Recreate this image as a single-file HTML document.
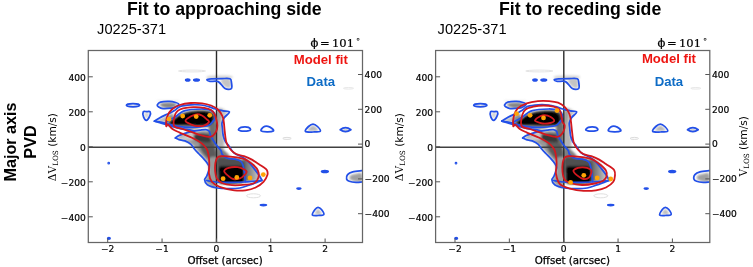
<!DOCTYPE html><html><head><meta charset="utf-8"><title>PVD</title><style>
html,body{margin:0;padding:0;background:#fff;}
body{width:753px;height:267px;overflow:hidden;position:relative;}
svg{position:absolute;left:0;top:0;}
.tk{font-family:"DejaVu Sans",sans-serif;font-size:9.1px;fill:#000;stroke:#000;stroke-width:0.2px;}
.al{font-family:"DejaVu Sans",sans-serif;font-size:10.25px;fill:#000;stroke:#000;stroke-width:0.25px;}
.yl{font-family:"DejaVu Sans",sans-serif;font-size:10.6px;fill:#000;}
.ser{font-family:"DejaVu Serif",serif;font-size:10.6px;}
.ttl{font-family:"Liberation Sans",Arial,sans-serif;font-weight:bold;font-size:17.7px;fill:#000;}
.obj{font-family:"Liberation Sans",Arial,sans-serif;font-size:14.6px;fill:#000;}
.phi{font-family:"DejaVu Serif",serif;font-size:11.5px;fill:#000;stroke:#000;stroke-width:0.22px;}
.lg{font-family:"Liberation Sans",Arial,sans-serif;font-weight:bold;font-size:13.15px;}
.side{font-family:"Liberation Sans",Arial,sans-serif;font-weight:bold;font-size:16.2px;fill:#000;}
</style></head><body><svg width="753" height="267" viewBox="0 0 753 267">
<defs><filter id="bl" x="-5%" y="-5%" width="110%" height="110%"><feGaussianBlur stdDeviation="1.1"/></filter><linearGradient id="gr" x1="0" x2="1" y1="0" y2="0"><stop offset="0" stop-color="#5a5a5a"/><stop offset="1" stop-color="#d8d8d8"/></linearGradient><clipPath id="cp"><rect x="88.3" y="50.5" width="274.2" height="192.0"/></clipPath></defs>
<g clip-path="url(#cp)"><g filter="url(#bl)"><path d="M159.50,104.80 C159.17,104.00 161.08,103.37 163.00,103.00 C164.92,102.63 168.75,102.40 171.00,102.60 C173.25,102.80 176.08,103.40 176.50,104.20 C176.92,105.00 175.42,106.80 173.50,107.40 C171.58,108.00 167.33,108.23 165.00,107.80 C162.67,107.37 159.83,105.60 159.50,104.80Z" fill="#858585" fill-opacity="1.0"/><path d="M159.00,100.60 C162.00,100.43 174.00,100.43 177.00,100.60 C180.00,100.77 180.00,101.43 177.00,101.60 C174.00,101.77 162.00,101.77 159.00,101.60 C156.00,101.43 156.00,100.77 159.00,100.60Z" fill="#d6d6d6" fill-opacity="0.8"/><path d="M144.50,113.00 C145.13,112.42 148.18,112.42 148.80,113.00 C149.42,113.58 148.58,115.53 148.20,116.50 C147.82,117.47 147.03,118.80 146.50,118.80 C145.97,118.80 145.33,117.47 145.00,116.50 C144.67,115.53 143.87,113.58 144.50,113.00Z" fill="#d0d0d0" fill-opacity="1.0"/><path d="M157.00,120.80 C157.00,119.78 162.33,117.72 165.00,116.50 C167.67,115.28 171.50,112.50 173.00,113.50 C174.50,114.50 175.33,120.98 174.00,122.50 C172.67,124.02 167.83,122.88 165.00,122.60 C162.17,122.32 157.00,121.82 157.00,120.80Z" fill="#bdbdbd" fill-opacity="1.0"/><path d="M166.00,118.00 C167.00,116.70 171.67,114.17 173.00,115.00 C174.33,115.83 175.00,121.70 174.00,123.00 C173.00,124.30 168.33,123.63 167.00,122.80 C165.67,121.97 165.00,119.30 166.00,118.00Z" fill="#8e8e8e" fill-opacity="1.0"/><path d="M168.00,124.50 C170.17,124.33 179.67,125.67 185.00,126.00 C190.33,126.33 198.33,125.83 200.00,126.50 C201.67,127.17 197.50,129.53 195.00,130.00 C192.50,130.47 188.83,129.80 185.00,129.30 C181.17,128.80 174.83,127.80 172.00,127.00 C169.17,126.20 165.83,124.67 168.00,124.50Z" fill="#a8a8a8" fill-opacity="1.0"/><path d="M173.50,119.00 C175.42,117.75 177.58,115.77 180.00,114.50 C182.42,113.23 185.17,112.12 188.00,111.40 C190.83,110.68 193.75,110.35 197.00,110.20 C200.25,110.05 204.83,110.12 207.50,110.50 C210.17,110.88 211.70,111.58 213.00,112.50 C214.30,113.42 214.92,114.17 215.30,116.00 C215.68,117.83 215.77,121.78 215.30,123.50 C214.83,125.22 215.72,125.75 212.50,126.30 C209.28,126.85 201.42,126.80 196.00,126.80 C190.58,126.80 184.42,126.52 180.00,126.30 C175.58,126.08 171.42,126.22 169.50,125.50 C167.58,124.78 167.83,123.08 168.50,122.00 C169.17,120.92 171.58,120.25 173.50,119.00Z" fill="#555555" fill-opacity="1.0"/><path d="M170.50,121.50 C171.00,120.42 173.30,119.38 175.00,118.30 C176.70,117.22 178.52,115.97 180.70,115.00 C182.88,114.03 185.47,113.10 188.10,112.50 C190.73,111.90 193.35,111.52 196.50,111.40 C199.65,111.28 204.55,111.40 207.00,111.80 C209.45,112.20 210.20,112.97 211.20,113.80 C212.20,114.63 212.70,115.52 213.00,116.80 C213.30,118.08 213.25,120.20 213.00,121.50 C212.75,122.80 213.67,123.95 211.50,124.60 C209.33,125.25 204.25,125.28 200.00,125.40 C195.75,125.52 190.67,125.40 186.00,125.30 C181.33,125.20 174.58,125.43 172.00,124.80 C169.42,124.17 170.00,122.58 170.50,121.50Z" fill="#000" fill-opacity="1.0"/><path d="M217.00,109.50 C218.67,104.80 225.92,110.38 227.00,111.80 C228.08,113.22 224.42,115.63 223.50,118.00 C222.58,120.37 221.75,122.33 221.50,126.00 C221.25,129.67 221.42,136.50 222.00,140.00 C222.58,143.50 225.50,145.33 225.00,147.00 C224.50,148.67 220.33,151.17 219.00,150.00 C217.67,148.83 217.33,146.75 217.00,140.00 C216.67,133.25 215.33,114.20 217.00,109.50Z" fill="#c2c2c2" fill-opacity="1.0"/><path d="M217.00,112.00 C217.67,107.17 220.50,110.83 221.00,113.00 C221.50,115.17 220.08,120.50 220.00,125.00 C219.92,129.50 221.00,137.17 220.50,140.00 C220.00,142.83 217.58,146.67 217.00,142.00 C216.42,137.33 216.33,116.83 217.00,112.00Z" fill="#9a9a9a" fill-opacity="1.0"/><path d="M178.00,137.50 C178.33,136.33 183.00,134.50 186.00,133.50 C189.00,132.50 192.67,132.00 196.00,131.50 C199.33,131.00 203.50,130.25 206.00,130.50 C208.50,130.75 209.67,131.42 211.00,133.00 C212.33,134.58 213.25,137.50 214.00,140.00 C214.75,142.50 215.17,145.00 215.50,148.00 C215.83,151.00 216.92,155.50 216.00,158.00 C215.08,160.50 212.17,163.17 210.00,163.00 C207.83,162.83 205.17,159.17 203.00,157.00 C200.83,154.83 199.00,152.17 197.00,150.00 C195.00,147.83 193.17,145.58 191.00,144.00 C188.83,142.42 186.17,141.58 184.00,140.50 C181.83,139.42 177.67,138.67 178.00,137.50Z" fill="#989898" fill-opacity="1.0"/><path d="M180.00,138.30 C180.00,137.43 183.83,135.88 186.00,135.00 C188.17,134.12 191.83,132.25 193.00,133.00 C194.17,133.75 194.17,138.30 193.00,139.50 C191.83,140.70 188.17,140.40 186.00,140.20 C183.83,140.00 180.00,139.17 180.00,138.30Z" fill="#cacaca" fill-opacity="1.0"/><path d="M194.00,135.00 C195.08,134.05 198.67,133.67 201.00,133.50 C203.33,133.33 206.08,133.42 208.00,134.00 C209.92,134.58 211.58,135.75 212.50,137.00 C213.42,138.25 214.42,140.53 213.50,141.50 C212.58,142.47 209.42,142.72 207.00,142.80 C204.58,142.88 201.08,142.60 199.00,142.00 C196.92,141.40 195.33,140.37 194.50,139.20 C193.67,138.03 192.92,135.95 194.00,135.00Z" fill="#383838" fill-opacity="1.0"/><path d="M200.00,143.00 C201.17,141.88 205.67,142.72 208.00,142.80 C210.33,142.88 212.73,142.30 214.00,143.50 C215.27,144.70 215.33,147.58 215.60,150.00 C215.87,152.42 216.45,156.33 215.60,158.00 C214.75,159.67 212.18,160.33 210.50,160.00 C208.82,159.67 207.08,157.75 205.50,156.00 C203.92,154.25 201.92,151.67 201.00,149.50 C200.08,147.33 198.83,144.12 200.00,143.00Z" fill="#5a5a5a" fill-opacity="1.0"/><path d="M209.50,125.50 C210.67,123.58 214.92,120.08 216.00,123.50 C217.08,126.92 216.58,142.75 216.00,146.00 C215.42,149.25 213.67,144.83 212.50,143.00 C211.33,141.17 209.50,137.92 209.00,135.00 C208.50,132.08 208.33,127.42 209.50,125.50Z" fill="#6e6e6e" fill-opacity="1.0"/><path d="M217.00,126.00 C217.83,122.33 221.00,123.33 222.00,125.00 C223.00,126.67 222.58,133.17 223.00,136.00 C223.42,138.83 224.75,140.17 224.50,142.00 C224.25,143.83 222.75,146.17 221.50,147.00 C220.25,147.83 217.75,150.50 217.00,147.00 C216.25,143.50 216.17,129.67 217.00,126.00Z" fill="#b4b4b4" fill-opacity="1.0"/><path d="M217.00,147.50 C217.67,145.87 219.50,147.25 221.00,148.00 C222.50,148.75 224.67,150.58 226.00,152.00 C227.33,153.42 230.50,155.53 229.00,156.50 C227.50,157.47 219.00,159.30 217.00,157.80 C215.00,156.30 216.33,149.13 217.00,147.50Z" fill="#7e7e7e" fill-opacity="1.0"/><path d="M243,158 L250,161 L256,167.5 L260,175 L261.5,180.5 L243,182 Z" fill="url(#gr)"/><path d="M217.00,158.20 C219.20,155.83 226.00,157.58 230.00,157.80 C234.00,158.02 238.58,158.55 241.00,159.50 C243.42,160.45 243.83,161.75 244.50,163.50 C245.17,165.25 245.00,167.00 245.00,170.00 C245.00,173.00 246.67,179.25 244.50,181.50 C242.33,183.75 236.25,183.25 232.00,183.50 C227.75,183.75 221.53,184.92 219.00,183.00 C216.47,181.08 217.13,176.13 216.80,172.00 C216.47,167.87 214.80,160.57 217.00,158.20Z" fill="#505050" fill-opacity="1.0"/><path d="M219.50,166.80 C221.33,165.17 226.42,166.25 230.00,166.20 C233.58,166.15 238.75,165.87 241.00,166.50 C243.25,167.13 243.03,168.08 243.50,170.00 C243.97,171.92 244.05,175.87 243.80,178.00 C243.55,180.13 244.30,181.90 242.00,182.80 C239.70,183.70 233.67,183.37 230.00,183.40 C226.33,183.43 221.83,184.23 220.00,183.00 C218.17,181.77 219.08,178.70 219.00,176.00 C218.92,173.30 217.67,168.43 219.50,166.80Z" fill="#050505" fill-opacity="1.0"/><path d="M208.00,160.00 C209.17,157.83 214.58,154.67 216.00,159.00 C217.42,163.33 217.67,181.67 216.50,186.00 C215.33,190.33 210.83,186.00 209.00,185.00 C207.17,184.00 205.50,182.17 205.50,180.00 C205.50,177.83 208.58,175.33 209.00,172.00 C209.42,168.67 206.83,162.17 208.00,160.00Z" fill="#9a9a9a" fill-opacity="1.0"/><path d="M222.00,79.50 C223.50,79.08 228.58,78.17 230.00,79.50 C231.42,80.83 231.17,86.17 230.50,87.50 C229.83,88.83 227.58,88.42 226.00,87.50 C224.42,86.58 221.67,83.33 221.00,82.00 C220.33,80.67 220.50,79.92 222.00,79.50Z" fill="#c4c4c4" fill-opacity="1.0"/><path d="M209.00,76.00 C212.50,75.50 226.42,75.38 230.00,75.80 C233.58,76.22 234.00,78.00 230.50,78.50 C227.00,79.00 212.58,79.22 209.00,78.80 C205.42,78.38 205.50,76.50 209.00,76.00Z" fill="#d4d4d4" fill-opacity="1.0"/><path d="M308.00,130.50 C307.17,129.67 311.33,125.50 313.00,125.50 C314.67,125.50 318.83,129.67 318.00,130.50 C317.17,131.33 308.83,131.33 308.00,130.50Z" fill="#b8b8b8" fill-opacity="1.0"/><path d="M315.00,214.00 C314.42,213.17 316.92,209.00 318.00,209.00 C319.08,209.00 322.00,213.17 321.50,214.00 C321.00,214.83 315.58,214.83 315.00,214.00Z" fill="#bcbcbc" fill-opacity="1.0"/><path d="M350.00,176.00 C350.83,174.97 354.08,174.22 356.00,173.80 C357.92,173.38 360.58,172.22 361.50,173.50 C362.42,174.78 363.25,180.42 361.50,181.50 C359.75,182.58 352.92,180.92 351.00,180.00 C349.08,179.08 349.17,177.03 350.00,176.00Z" fill="#a0a0a0" fill-opacity="1.0"/><ellipse cx="345.5" cy="130" rx="3.5" ry="1.2" fill="#bbb"/><ellipse cx="133" cy="105.3" rx="5" ry="1" fill="#d8d8d8"/></g><ellipse cx="192" cy="71" rx="13.5" ry="0.9" fill="none" stroke="#e4e4e4" stroke-width="1"/><ellipse cx="287" cy="138.4" rx="4.2" ry="1" fill="none" stroke="#dcdcdc" stroke-width="1"/><ellipse cx="253.5" cy="195.8" rx="7" ry="2" fill="none" stroke="#e0e0e0" stroke-width="1"/><ellipse cx="348.5" cy="88.3" rx="5" ry="0.8" fill="none" stroke="#e8e8e8" stroke-width="1"/><line x1="216.5" y1="50.5" x2="216.5" y2="242.5" stroke="#2a2a2a" stroke-width="1.4"/><line x1="88.3" y1="147.20000000000002" x2="362.5" y2="147.20000000000002" stroke="#404040" stroke-width="1.6"/><g fill="none" stroke="#2350e8" stroke-width="1.75" stroke-linejoin="round" stroke-linecap="round"><path d="M157.30,104.90 C157.67,104.13 158.50,102.68 160.50,102.10 C162.50,101.52 166.78,101.33 169.30,101.40 C171.82,101.47 174.02,102.02 175.60,102.50 C177.18,102.98 178.90,103.52 178.80,104.30 C178.70,105.08 176.23,106.55 175.00,107.20 C173.77,107.85 173.40,107.97 171.40,108.20 C169.40,108.43 165.18,108.85 163.00,108.60 C160.82,108.35 159.25,107.32 158.30,106.70 C157.35,106.08 156.93,105.67 157.30,104.90Z"/><path d="M143.20,111.90 C143.70,110.97 145.43,111.60 146.60,111.60 C147.77,111.60 149.68,111.13 150.20,111.90 C150.72,112.67 150.30,114.80 149.70,116.20 C149.10,117.60 147.62,120.13 146.60,120.30 C145.58,120.47 144.17,118.60 143.60,117.20 C143.03,115.80 142.70,112.83 143.20,111.90Z"/><path d="M207.00,79.60 C207.33,79.18 209.50,79.07 212.00,78.90 C214.50,78.73 219.00,78.62 222.00,78.60 C225.00,78.58 228.42,78.07 230.00,78.80 C231.58,79.53 231.28,81.37 231.50,83.00 C231.72,84.63 232.38,87.67 231.30,88.60 C230.22,89.53 227.18,89.77 225.00,88.60 C222.82,87.43 220.70,82.80 218.20,81.60 C215.70,80.40 211.87,81.73 210.00,81.40 C208.13,81.07 206.67,80.02 207.00,79.60Z"/><path d="M261.00,130.80 C260.42,130.00 262.33,127.73 263.50,127.00 C264.67,126.27 266.58,126.15 268.00,126.40 C269.42,126.65 271.12,127.73 272.00,128.50 C272.88,129.27 274.13,130.45 273.30,131.00 C272.47,131.55 269.05,131.83 267.00,131.80 C264.95,131.77 261.58,131.60 261.00,130.80Z"/><path d="M305.40,131.40 C304.65,130.48 307.23,127.73 308.50,126.50 C309.77,125.27 311.50,124.00 313.00,124.00 C314.50,124.00 316.28,125.30 317.50,126.50 C318.72,127.70 321.05,130.28 320.30,131.20 C319.55,132.12 315.48,131.97 313.00,132.00 C310.52,132.03 306.15,132.32 305.40,131.40Z"/><path d="M312.40,215.00 C311.90,214.00 314.07,210.78 315.00,209.50 C315.93,208.22 316.92,207.30 318.00,207.30 C319.08,207.30 320.53,208.28 321.50,209.50 C322.47,210.72 324.38,213.60 323.80,214.60 C323.22,215.60 319.90,215.43 318.00,215.50 C316.10,215.57 312.90,216.00 312.40,215.00Z"/><path d="M361.80,170.70 C360.28,170.88 355.07,171.15 352.70,171.80 C350.33,172.45 348.62,173.40 347.60,174.60 C346.58,175.80 346.32,177.88 346.60,179.00 C346.88,180.12 347.73,180.73 349.30,181.30 C350.87,181.87 353.92,182.28 356.00,182.40 C358.08,182.52 360.83,182.07 361.80,182.00"/><path d="M154.50,121.20 C155.33,120.65 157.73,118.92 159.50,117.90 C161.27,116.88 163.23,115.95 165.10,115.10 C166.97,114.25 169.05,113.62 170.70,112.80 C172.35,111.98 173.37,111.27 175.00,110.20 C176.63,109.13 177.83,107.30 180.50,106.40 C183.17,105.50 187.58,105.03 191.00,104.80 C194.42,104.57 198.08,104.70 201.00,105.00 C203.92,105.30 206.33,106.00 208.50,106.60 C210.67,107.20 212.43,108.07 214.00,108.60 C215.57,109.13 216.40,109.43 217.90,109.80 C219.40,110.17 221.08,110.43 223.00,110.80 C224.92,111.17 229.17,110.87 229.40,112.00 C229.63,113.13 225.63,115.77 224.40,117.60 C223.17,119.43 222.33,121.27 222.00,123.00 C221.67,124.73 222.20,125.92 222.40,128.00 C222.60,130.08 222.70,133.25 223.20,135.50 C223.70,137.75 224.55,139.92 225.40,141.50 C226.25,143.08 226.88,143.10 228.30,145.00 C229.72,146.90 231.47,150.83 233.90,152.90 C236.33,154.97 240.47,155.92 242.90,157.40 C245.33,158.88 246.63,159.93 248.50,161.80 C250.37,163.67 252.43,166.48 254.10,168.60 C255.77,170.72 257.22,172.60 258.50,174.50 C259.78,176.40 261.25,179.08 261.80,180.00"/><path d="M166.00,122.30 C166.83,121.83 169.50,120.38 171.00,119.50 C172.50,118.62 173.83,117.78 175.00,117.00 C176.17,116.22 177.00,115.57 178.00,114.80 C179.00,114.03 179.83,113.08 181.00,112.40 C182.17,111.72 183.25,111.18 185.00,110.70 C186.75,110.22 188.73,109.78 191.50,109.50 C194.27,109.22 199.02,109.02 201.60,109.00 C204.18,108.98 205.53,109.20 207.00,109.40 C208.47,109.60 209.37,109.82 210.40,110.20 C211.43,110.58 212.47,110.98 213.20,111.70 C213.93,112.42 214.50,113.53 214.80,114.50 C215.10,115.47 215.10,116.58 215.00,117.50 C214.90,118.42 214.55,119.33 214.20,120.00 C213.85,120.67 213.12,121.25 212.90,121.50"/><path d="M212.90,121.50 C212.25,122.13 211.15,124.38 209.00,125.30 C206.85,126.22 203.17,126.65 200.00,127.00 C196.83,127.35 193.33,127.47 190.00,127.40 C186.67,127.33 183.12,127.03 180.00,126.60 C176.88,126.17 174.30,125.50 171.30,124.80 C168.30,124.10 164.80,123.00 162.00,122.40 C159.20,121.80 155.75,121.40 154.50,121.20"/><path d="M154.50,121.20 C155.62,121.53 158.62,122.45 161.20,123.20 C163.78,123.95 166.97,124.85 170.00,125.70 C173.03,126.55 176.28,127.65 179.40,128.30 C182.52,128.95 186.22,129.13 188.70,129.60 C191.18,130.07 193.37,130.85 194.30,131.10"/><path d="M175.40,138.00 C176.00,137.58 177.40,136.28 179.00,135.50 C180.60,134.72 183.00,133.93 185.00,133.30 C187.00,132.67 188.50,132.22 191.00,131.70 C193.50,131.18 197.50,130.55 200.00,130.20 C202.50,129.85 204.45,129.42 206.00,129.60 C207.55,129.78 208.55,130.32 209.30,131.30 C210.05,132.28 209.88,134.05 210.50,135.50 C211.12,136.95 212.08,138.52 213.00,140.00 C213.92,141.48 215.08,143.13 216.00,144.40 C216.92,145.67 217.67,146.57 218.50,147.60 C219.33,148.63 220.35,149.43 221.00,150.60 C221.65,151.77 221.32,153.33 222.40,154.60 C223.48,155.87 225.40,157.43 227.50,158.20 C229.60,158.97 232.75,158.63 235.00,159.20 C237.25,159.77 239.63,160.47 241.00,161.60 C242.37,162.73 242.58,163.77 243.20,166.00 C243.82,168.23 244.35,172.40 244.70,175.00 C245.05,177.60 245.20,180.50 245.30,181.60"/><path d="M206.50,180.50 C208.08,180.75 212.08,181.68 216.00,182.00 C219.92,182.32 225.17,182.40 230.00,182.40 C234.83,182.40 239.70,182.32 245.00,182.00 C250.30,181.68 259.00,180.75 261.80,180.50"/><path d="M175.40,138.00 C176.00,138.27 177.40,139.12 179.00,139.60 C180.60,140.08 183.00,140.12 185.00,140.90 C187.00,141.68 189.47,142.98 191.00,144.30 C192.53,145.62 192.95,147.27 194.20,148.80 C195.45,150.33 197.03,151.97 198.50,153.50 C199.97,155.03 201.53,156.38 203.00,158.00 C204.47,159.62 206.25,161.57 207.30,163.20 C208.35,164.83 209.38,165.67 209.30,167.80 C209.22,169.93 207.58,174.00 206.80,176.00 C206.02,178.00 204.50,178.35 204.60,179.80 C204.70,181.25 205.25,183.33 207.40,184.70 C209.55,186.07 213.95,187.35 217.50,188.00 C221.05,188.65 224.97,188.60 228.70,188.60 C232.43,188.60 236.53,188.57 239.90,188.00 C243.27,187.43 245.90,186.22 248.90,185.20 C251.90,184.18 255.75,182.68 257.90,181.90 C260.05,181.12 261.15,180.73 261.80,180.50"/><path d="M238.40,129.80 C238.48,129.23 239.90,127.88 241.00,127.40 C242.10,126.92 243.75,126.90 245.00,126.90 C246.25,126.90 247.57,126.95 248.50,127.40 C249.43,127.85 250.68,129.02 250.60,129.60 C250.52,130.18 249.10,130.63 248.00,130.90 C246.90,131.17 245.25,131.22 244.00,131.20 C242.75,131.18 241.43,131.03 240.50,130.80 C239.57,130.57 238.32,130.37 238.40,129.80Z"/><ellipse cx="133" cy="105.3" rx="6.6" ry="1.6"/><path d="M340.2,129.8 Q345.5,125.6 350.9,129.8 Q345.5,133.6 340.2,129.8Z"/><ellipse cx="187.7" cy="79.9" rx="2.0" ry="0.9" fill="#2350e8"/><ellipse cx="196.5" cy="79.9" rx="2.7" ry="0.9" fill="#2350e8"/><ellipse cx="324.9" cy="171.4" rx="3.3" ry="0.9" fill="#2350e8"/><ellipse cx="298.9" cy="188.6" rx="1.9" ry="0.6" fill="#2350e8"/><ellipse cx="263.4" cy="205.1" rx="3.0" ry="0.5" fill="#2350e8"/><ellipse cx="108.7" cy="163.2" rx="0.5" ry="0.5" fill="#2350e8"/><ellipse cx="108.9" cy="238.3" rx="1.2" ry="0.8" fill="#2350e8"/></g><g fill="none" stroke="#d3181e" stroke-width="1.8" stroke-linejoin="round"><path d="M166.20,126.00 C166.08,124.62 166.37,118.95 167.30,116.20 C168.23,113.45 169.73,111.37 171.80,109.50 C173.87,107.63 176.52,106.08 179.70,105.00 C182.88,103.92 187.17,103.28 190.90,103.00 C194.63,102.72 198.73,102.88 202.10,103.30 C205.47,103.72 208.47,104.47 211.10,105.50 C213.73,106.53 216.02,107.72 217.90,109.50 C219.78,111.28 221.42,114.12 222.40,116.20 C223.38,118.28 223.42,119.50 223.80,122.00 C224.18,124.50 224.27,127.78 224.70,131.20 C225.13,134.62 225.43,139.45 226.40,142.50 C227.37,145.55 228.88,147.58 230.50,149.50 C232.12,151.42 233.85,152.88 236.10,154.00 C238.35,155.12 241.37,155.27 244.00,156.20 C246.63,157.13 249.47,158.28 251.90,159.60 C254.33,160.92 256.65,162.82 258.60,164.10 C260.55,165.38 262.22,166.30 263.60,167.30 C264.98,168.30 266.27,168.80 266.90,170.10 C267.53,171.40 267.97,173.15 267.40,175.10 C266.83,177.05 265.47,179.73 263.50,181.80 C261.53,183.87 258.60,186.08 255.60,187.50 C252.60,188.92 249.05,189.83 245.50,190.30 C241.95,190.77 238.60,190.87 234.30,190.30 C230.00,189.73 223.45,188.32 219.70,186.90 C215.95,185.48 213.58,183.95 211.80,181.80 C210.02,179.65 209.42,176.80 209.00,174.00 C208.58,171.20 209.30,167.58 209.30,165.00 C209.30,162.42 209.30,160.90 209.00,158.50 C208.70,156.10 208.40,152.85 207.50,150.60 C206.60,148.35 205.02,146.52 203.60,145.00 C202.18,143.48 200.93,142.70 199.00,141.50 C197.07,140.30 194.33,138.92 192.00,137.80 C189.67,136.68 187.13,135.70 185.00,134.80 C182.87,133.90 181.28,133.37 179.20,132.40 C177.12,131.43 174.37,130.32 172.50,129.00 C170.63,127.68 169.05,125.00 168.00,124.50 C166.95,124.00 166.32,127.38 166.20,126.00Z"/><path d="M174.10,126.00 C172.77,123.87 174.05,118.67 174.60,116.20 C175.15,113.73 175.98,112.50 177.40,111.20 C178.82,109.90 180.47,109.07 183.10,108.40 C185.73,107.73 189.65,107.30 193.20,107.20 C196.75,107.10 201.42,107.33 204.40,107.80 C207.38,108.27 209.42,108.97 211.10,110.00 C212.78,111.03 213.65,112.50 214.50,114.00 C215.35,115.50 215.72,117.07 216.20,119.00 C216.68,120.93 217.38,123.57 217.40,125.60 C217.42,127.63 217.05,129.52 216.30,131.20 C215.55,132.88 214.22,134.77 212.90,135.70 C211.58,136.63 210.47,136.88 208.40,136.80 C206.33,136.72 203.12,135.93 200.50,135.20 C197.88,134.47 195.68,133.43 192.70,132.40 C189.72,131.37 185.70,130.07 182.60,129.00 C179.50,127.93 175.43,128.13 174.10,126.00Z"/><path d="M217.50,157.40 C218.52,156.27 219.33,156.33 221.50,156.20 C223.67,156.07 227.12,156.25 230.50,156.60 C233.88,156.95 238.98,157.62 241.80,158.30 C244.62,158.98 245.47,159.58 247.40,160.70 C249.33,161.82 251.65,163.35 253.40,165.00 C255.15,166.65 257.07,168.53 257.90,170.60 C258.73,172.67 258.97,175.33 258.40,177.40 C257.83,179.47 256.65,181.78 254.50,183.00 C252.35,184.22 249.25,184.33 245.50,184.70 C241.75,185.07 235.92,185.48 232.00,185.20 C228.08,184.92 224.52,184.12 222.00,183.00 C219.48,181.88 218.03,180.38 216.90,178.50 C215.77,176.62 215.45,174.28 215.20,171.70 C214.95,169.12 215.02,165.38 215.40,163.00 C215.78,160.62 216.48,158.53 217.50,157.40Z"/><path d="M185.50,120.80 C185.33,119.45 188.67,117.58 190.50,116.50 C192.33,115.42 194.58,114.47 196.50,114.30 C198.42,114.13 200.25,114.63 202.00,115.50 C203.75,116.37 205.83,118.42 207.00,119.50 C208.17,120.58 209.50,120.98 209.00,122.00 C208.50,123.02 206.00,124.92 204.00,125.60 C202.00,126.28 199.08,126.27 197.00,126.10 C194.92,125.93 193.42,125.48 191.50,124.60 C189.58,123.72 185.67,122.15 185.50,120.80Z"/><path d="M224.20,171.20 C224.20,169.80 226.45,168.47 228.70,167.80 C230.95,167.13 235.08,166.92 237.70,167.20 C240.32,167.48 242.90,168.75 244.40,169.50 C245.90,170.25 246.70,170.77 246.70,171.70 C246.70,172.63 245.53,173.97 244.40,175.10 C243.27,176.23 241.77,177.85 239.90,178.50 C238.03,179.15 235.07,179.38 233.20,179.00 C231.33,178.62 230.20,177.50 228.70,176.20 C227.20,174.90 224.20,172.60 224.20,171.20Z"/></g></g>
<g fill="#ffa405"><circle cx="169" cy="119.2" r="2.4"/><circle cx="182.7" cy="116.1" r="2.4"/><circle cx="196.2" cy="116.6" r="2.4"/><circle cx="209.7" cy="115.3" r="2.4"/><circle cx="223.1" cy="178.7" r="2.4"/><circle cx="236.8" cy="177.4" r="2.4"/><circle cx="250" cy="177.9" r="2.4"/><circle cx="263.3" cy="174.6" r="2.4"/></g>
<rect x="88.3" y="50.5" width="274.2" height="192.0" fill="none" stroke="#666" stroke-width="1.25"/>
<line x1="107.70" y1="242.5" x2="107.70" y2="238.5" stroke="#555" stroke-width="1"/>
<line x1="162.05" y1="242.5" x2="162.05" y2="238.5" stroke="#555" stroke-width="1"/>
<line x1="216.40" y1="242.5" x2="216.40" y2="238.5" stroke="#555" stroke-width="1"/>
<line x1="270.75" y1="242.5" x2="270.75" y2="238.5" stroke="#555" stroke-width="1"/>
<line x1="325.10" y1="242.5" x2="325.10" y2="238.5" stroke="#555" stroke-width="1"/>
<line x1="88.3" y1="76.80" x2="92.8" y2="76.80" stroke="#555" stroke-width="1"/>
<line x1="362.5" y1="74.50" x2="358.0" y2="74.50" stroke="#555" stroke-width="1"/>
<line x1="88.3" y1="111.80" x2="92.8" y2="111.80" stroke="#555" stroke-width="1"/>
<line x1="362.5" y1="109.30" x2="358.0" y2="109.30" stroke="#555" stroke-width="1"/>
<line x1="88.3" y1="146.80" x2="92.8" y2="146.80" stroke="#555" stroke-width="1"/>
<line x1="362.5" y1="144.10" x2="358.0" y2="144.10" stroke="#555" stroke-width="1"/>
<line x1="88.3" y1="181.80" x2="92.8" y2="181.80" stroke="#555" stroke-width="1"/>
<line x1="362.5" y1="178.90" x2="358.0" y2="178.90" stroke="#555" stroke-width="1"/>
<line x1="88.3" y1="216.80" x2="92.8" y2="216.80" stroke="#555" stroke-width="1"/>
<line x1="362.5" y1="213.70" x2="358.0" y2="213.70" stroke="#555" stroke-width="1"/>
<text x="107.70" y="251.8" text-anchor="middle" class="tk">−2</text>
<text x="162.05" y="251.8" text-anchor="middle" class="tk">−1</text>
<text x="216.40" y="251.8" text-anchor="middle" class="tk">0</text>
<text x="270.75" y="251.8" text-anchor="middle" class="tk">1</text>
<text x="325.10" y="251.8" text-anchor="middle" class="tk">2</text>
<text x="85.8" y="80.70" text-anchor="end" class="tk">400</text>
<text x="364.6" y="77.70" class="tk">400</text>
<text x="85.8" y="115.70" text-anchor="end" class="tk">200</text>
<text x="364.6" y="112.50" class="tk">200</text>
<text x="85.8" y="150.70" text-anchor="end" class="tk">0</text>
<text x="364.6" y="147.30" class="tk">0</text>
<text x="85.8" y="185.70" text-anchor="end" class="tk">−200</text>
<text x="364.6" y="182.10" class="tk">−200</text>
<text x="85.8" y="220.70" text-anchor="end" class="tk">−400</text>
<text x="364.6" y="216.90" class="tk">−400</text>
<text x="225.1" y="263.5" text-anchor="middle" class="al">Offset (arcsec)</text>
<text transform="translate(55.8,147.1) rotate(-90)" text-anchor="middle" class="yl"><tspan class="ser">ΔV<tspan font-size="7.2" dy="2.2">LOS</tspan></tspan><tspan dy="-2.2"> (km/s)</tspan></text>
<g transform="translate(347.3,0)">
<g clip-path="url(#cp)"><g filter="url(#bl)"><path d="M159.50,104.80 C159.17,104.00 161.08,103.37 163.00,103.00 C164.92,102.63 168.75,102.40 171.00,102.60 C173.25,102.80 176.08,103.40 176.50,104.20 C176.92,105.00 175.42,106.80 173.50,107.40 C171.58,108.00 167.33,108.23 165.00,107.80 C162.67,107.37 159.83,105.60 159.50,104.80Z" fill="#858585" fill-opacity="1.0"/><path d="M159.00,100.60 C162.00,100.43 174.00,100.43 177.00,100.60 C180.00,100.77 180.00,101.43 177.00,101.60 C174.00,101.77 162.00,101.77 159.00,101.60 C156.00,101.43 156.00,100.77 159.00,100.60Z" fill="#d6d6d6" fill-opacity="0.8"/><path d="M144.50,113.00 C145.13,112.42 148.18,112.42 148.80,113.00 C149.42,113.58 148.58,115.53 148.20,116.50 C147.82,117.47 147.03,118.80 146.50,118.80 C145.97,118.80 145.33,117.47 145.00,116.50 C144.67,115.53 143.87,113.58 144.50,113.00Z" fill="#d0d0d0" fill-opacity="1.0"/><path d="M157.00,120.80 C157.00,119.78 162.33,117.72 165.00,116.50 C167.67,115.28 171.50,112.50 173.00,113.50 C174.50,114.50 175.33,120.98 174.00,122.50 C172.67,124.02 167.83,122.88 165.00,122.60 C162.17,122.32 157.00,121.82 157.00,120.80Z" fill="#bdbdbd" fill-opacity="1.0"/><path d="M166.00,118.00 C167.00,116.70 171.67,114.17 173.00,115.00 C174.33,115.83 175.00,121.70 174.00,123.00 C173.00,124.30 168.33,123.63 167.00,122.80 C165.67,121.97 165.00,119.30 166.00,118.00Z" fill="#8e8e8e" fill-opacity="1.0"/><path d="M168.00,124.50 C170.17,124.33 179.67,125.67 185.00,126.00 C190.33,126.33 198.33,125.83 200.00,126.50 C201.67,127.17 197.50,129.53 195.00,130.00 C192.50,130.47 188.83,129.80 185.00,129.30 C181.17,128.80 174.83,127.80 172.00,127.00 C169.17,126.20 165.83,124.67 168.00,124.50Z" fill="#a8a8a8" fill-opacity="1.0"/><path d="M173.50,119.00 C175.42,117.75 177.58,115.77 180.00,114.50 C182.42,113.23 185.17,112.12 188.00,111.40 C190.83,110.68 193.75,110.35 197.00,110.20 C200.25,110.05 204.83,110.12 207.50,110.50 C210.17,110.88 211.70,111.58 213.00,112.50 C214.30,113.42 214.92,114.17 215.30,116.00 C215.68,117.83 215.77,121.78 215.30,123.50 C214.83,125.22 215.72,125.75 212.50,126.30 C209.28,126.85 201.42,126.80 196.00,126.80 C190.58,126.80 184.42,126.52 180.00,126.30 C175.58,126.08 171.42,126.22 169.50,125.50 C167.58,124.78 167.83,123.08 168.50,122.00 C169.17,120.92 171.58,120.25 173.50,119.00Z" fill="#555555" fill-opacity="1.0"/><path d="M170.50,121.50 C171.00,120.42 173.30,119.38 175.00,118.30 C176.70,117.22 178.52,115.97 180.70,115.00 C182.88,114.03 185.47,113.10 188.10,112.50 C190.73,111.90 193.35,111.52 196.50,111.40 C199.65,111.28 204.55,111.40 207.00,111.80 C209.45,112.20 210.20,112.97 211.20,113.80 C212.20,114.63 212.70,115.52 213.00,116.80 C213.30,118.08 213.25,120.20 213.00,121.50 C212.75,122.80 213.67,123.95 211.50,124.60 C209.33,125.25 204.25,125.28 200.00,125.40 C195.75,125.52 190.67,125.40 186.00,125.30 C181.33,125.20 174.58,125.43 172.00,124.80 C169.42,124.17 170.00,122.58 170.50,121.50Z" fill="#000" fill-opacity="1.0"/><path d="M217.00,109.50 C218.67,104.80 225.92,110.38 227.00,111.80 C228.08,113.22 224.42,115.63 223.50,118.00 C222.58,120.37 221.75,122.33 221.50,126.00 C221.25,129.67 221.42,136.50 222.00,140.00 C222.58,143.50 225.50,145.33 225.00,147.00 C224.50,148.67 220.33,151.17 219.00,150.00 C217.67,148.83 217.33,146.75 217.00,140.00 C216.67,133.25 215.33,114.20 217.00,109.50Z" fill="#c2c2c2" fill-opacity="1.0"/><path d="M217.00,112.00 C217.67,107.17 220.50,110.83 221.00,113.00 C221.50,115.17 220.08,120.50 220.00,125.00 C219.92,129.50 221.00,137.17 220.50,140.00 C220.00,142.83 217.58,146.67 217.00,142.00 C216.42,137.33 216.33,116.83 217.00,112.00Z" fill="#9a9a9a" fill-opacity="1.0"/><path d="M178.00,137.50 C178.33,136.33 183.00,134.50 186.00,133.50 C189.00,132.50 192.67,132.00 196.00,131.50 C199.33,131.00 203.50,130.25 206.00,130.50 C208.50,130.75 209.67,131.42 211.00,133.00 C212.33,134.58 213.25,137.50 214.00,140.00 C214.75,142.50 215.17,145.00 215.50,148.00 C215.83,151.00 216.92,155.50 216.00,158.00 C215.08,160.50 212.17,163.17 210.00,163.00 C207.83,162.83 205.17,159.17 203.00,157.00 C200.83,154.83 199.00,152.17 197.00,150.00 C195.00,147.83 193.17,145.58 191.00,144.00 C188.83,142.42 186.17,141.58 184.00,140.50 C181.83,139.42 177.67,138.67 178.00,137.50Z" fill="#989898" fill-opacity="1.0"/><path d="M180.00,138.30 C180.00,137.43 183.83,135.88 186.00,135.00 C188.17,134.12 191.83,132.25 193.00,133.00 C194.17,133.75 194.17,138.30 193.00,139.50 C191.83,140.70 188.17,140.40 186.00,140.20 C183.83,140.00 180.00,139.17 180.00,138.30Z" fill="#cacaca" fill-opacity="1.0"/><path d="M194.00,135.00 C195.08,134.05 198.67,133.67 201.00,133.50 C203.33,133.33 206.08,133.42 208.00,134.00 C209.92,134.58 211.58,135.75 212.50,137.00 C213.42,138.25 214.42,140.53 213.50,141.50 C212.58,142.47 209.42,142.72 207.00,142.80 C204.58,142.88 201.08,142.60 199.00,142.00 C196.92,141.40 195.33,140.37 194.50,139.20 C193.67,138.03 192.92,135.95 194.00,135.00Z" fill="#383838" fill-opacity="1.0"/><path d="M200.00,143.00 C201.17,141.88 205.67,142.72 208.00,142.80 C210.33,142.88 212.73,142.30 214.00,143.50 C215.27,144.70 215.33,147.58 215.60,150.00 C215.87,152.42 216.45,156.33 215.60,158.00 C214.75,159.67 212.18,160.33 210.50,160.00 C208.82,159.67 207.08,157.75 205.50,156.00 C203.92,154.25 201.92,151.67 201.00,149.50 C200.08,147.33 198.83,144.12 200.00,143.00Z" fill="#5a5a5a" fill-opacity="1.0"/><path d="M209.50,125.50 C210.67,123.58 214.92,120.08 216.00,123.50 C217.08,126.92 216.58,142.75 216.00,146.00 C215.42,149.25 213.67,144.83 212.50,143.00 C211.33,141.17 209.50,137.92 209.00,135.00 C208.50,132.08 208.33,127.42 209.50,125.50Z" fill="#6e6e6e" fill-opacity="1.0"/><path d="M217.00,126.00 C217.83,122.33 221.00,123.33 222.00,125.00 C223.00,126.67 222.58,133.17 223.00,136.00 C223.42,138.83 224.75,140.17 224.50,142.00 C224.25,143.83 222.75,146.17 221.50,147.00 C220.25,147.83 217.75,150.50 217.00,147.00 C216.25,143.50 216.17,129.67 217.00,126.00Z" fill="#b4b4b4" fill-opacity="1.0"/><path d="M217.00,147.50 C217.67,145.87 219.50,147.25 221.00,148.00 C222.50,148.75 224.67,150.58 226.00,152.00 C227.33,153.42 230.50,155.53 229.00,156.50 C227.50,157.47 219.00,159.30 217.00,157.80 C215.00,156.30 216.33,149.13 217.00,147.50Z" fill="#7e7e7e" fill-opacity="1.0"/><path d="M243,158 L250,161 L256,167.5 L260,175 L261.5,180.5 L243,182 Z" fill="url(#gr)"/><path d="M217.00,158.20 C219.20,155.83 226.00,157.58 230.00,157.80 C234.00,158.02 238.58,158.55 241.00,159.50 C243.42,160.45 243.83,161.75 244.50,163.50 C245.17,165.25 245.00,167.00 245.00,170.00 C245.00,173.00 246.67,179.25 244.50,181.50 C242.33,183.75 236.25,183.25 232.00,183.50 C227.75,183.75 221.53,184.92 219.00,183.00 C216.47,181.08 217.13,176.13 216.80,172.00 C216.47,167.87 214.80,160.57 217.00,158.20Z" fill="#505050" fill-opacity="1.0"/><path d="M219.50,166.80 C221.33,165.17 226.42,166.25 230.00,166.20 C233.58,166.15 238.75,165.87 241.00,166.50 C243.25,167.13 243.03,168.08 243.50,170.00 C243.97,171.92 244.05,175.87 243.80,178.00 C243.55,180.13 244.30,181.90 242.00,182.80 C239.70,183.70 233.67,183.37 230.00,183.40 C226.33,183.43 221.83,184.23 220.00,183.00 C218.17,181.77 219.08,178.70 219.00,176.00 C218.92,173.30 217.67,168.43 219.50,166.80Z" fill="#050505" fill-opacity="1.0"/><path d="M208.00,160.00 C209.17,157.83 214.58,154.67 216.00,159.00 C217.42,163.33 217.67,181.67 216.50,186.00 C215.33,190.33 210.83,186.00 209.00,185.00 C207.17,184.00 205.50,182.17 205.50,180.00 C205.50,177.83 208.58,175.33 209.00,172.00 C209.42,168.67 206.83,162.17 208.00,160.00Z" fill="#9a9a9a" fill-opacity="1.0"/><path d="M222.00,79.50 C223.50,79.08 228.58,78.17 230.00,79.50 C231.42,80.83 231.17,86.17 230.50,87.50 C229.83,88.83 227.58,88.42 226.00,87.50 C224.42,86.58 221.67,83.33 221.00,82.00 C220.33,80.67 220.50,79.92 222.00,79.50Z" fill="#c4c4c4" fill-opacity="1.0"/><path d="M209.00,76.00 C212.50,75.50 226.42,75.38 230.00,75.80 C233.58,76.22 234.00,78.00 230.50,78.50 C227.00,79.00 212.58,79.22 209.00,78.80 C205.42,78.38 205.50,76.50 209.00,76.00Z" fill="#d4d4d4" fill-opacity="1.0"/><path d="M308.00,130.50 C307.17,129.67 311.33,125.50 313.00,125.50 C314.67,125.50 318.83,129.67 318.00,130.50 C317.17,131.33 308.83,131.33 308.00,130.50Z" fill="#b8b8b8" fill-opacity="1.0"/><path d="M315.00,214.00 C314.42,213.17 316.92,209.00 318.00,209.00 C319.08,209.00 322.00,213.17 321.50,214.00 C321.00,214.83 315.58,214.83 315.00,214.00Z" fill="#bcbcbc" fill-opacity="1.0"/><path d="M350.00,176.00 C350.83,174.97 354.08,174.22 356.00,173.80 C357.92,173.38 360.58,172.22 361.50,173.50 C362.42,174.78 363.25,180.42 361.50,181.50 C359.75,182.58 352.92,180.92 351.00,180.00 C349.08,179.08 349.17,177.03 350.00,176.00Z" fill="#a0a0a0" fill-opacity="1.0"/><ellipse cx="345.5" cy="130" rx="3.5" ry="1.2" fill="#bbb"/><ellipse cx="133" cy="105.3" rx="5" ry="1" fill="#d8d8d8"/></g><ellipse cx="192" cy="71" rx="13.5" ry="0.9" fill="none" stroke="#e4e4e4" stroke-width="1"/><ellipse cx="287" cy="138.4" rx="4.2" ry="1" fill="none" stroke="#dcdcdc" stroke-width="1"/><ellipse cx="253.5" cy="195.8" rx="7" ry="2" fill="none" stroke="#e0e0e0" stroke-width="1"/><ellipse cx="348.5" cy="88.3" rx="5" ry="0.8" fill="none" stroke="#e8e8e8" stroke-width="1"/><line x1="216.5" y1="50.5" x2="216.5" y2="242.5" stroke="#2a2a2a" stroke-width="1.4"/><line x1="88.3" y1="147.20000000000002" x2="362.5" y2="147.20000000000002" stroke="#404040" stroke-width="1.6"/><g fill="none" stroke="#2350e8" stroke-width="1.75" stroke-linejoin="round" stroke-linecap="round"><path d="M157.30,104.90 C157.67,104.13 158.50,102.68 160.50,102.10 C162.50,101.52 166.78,101.33 169.30,101.40 C171.82,101.47 174.02,102.02 175.60,102.50 C177.18,102.98 178.90,103.52 178.80,104.30 C178.70,105.08 176.23,106.55 175.00,107.20 C173.77,107.85 173.40,107.97 171.40,108.20 C169.40,108.43 165.18,108.85 163.00,108.60 C160.82,108.35 159.25,107.32 158.30,106.70 C157.35,106.08 156.93,105.67 157.30,104.90Z"/><path d="M143.20,111.90 C143.70,110.97 145.43,111.60 146.60,111.60 C147.77,111.60 149.68,111.13 150.20,111.90 C150.72,112.67 150.30,114.80 149.70,116.20 C149.10,117.60 147.62,120.13 146.60,120.30 C145.58,120.47 144.17,118.60 143.60,117.20 C143.03,115.80 142.70,112.83 143.20,111.90Z"/><path d="M207.00,79.60 C207.33,79.18 209.50,79.07 212.00,78.90 C214.50,78.73 219.00,78.62 222.00,78.60 C225.00,78.58 228.42,78.07 230.00,78.80 C231.58,79.53 231.28,81.37 231.50,83.00 C231.72,84.63 232.38,87.67 231.30,88.60 C230.22,89.53 227.18,89.77 225.00,88.60 C222.82,87.43 220.70,82.80 218.20,81.60 C215.70,80.40 211.87,81.73 210.00,81.40 C208.13,81.07 206.67,80.02 207.00,79.60Z"/><path d="M261.00,130.80 C260.42,130.00 262.33,127.73 263.50,127.00 C264.67,126.27 266.58,126.15 268.00,126.40 C269.42,126.65 271.12,127.73 272.00,128.50 C272.88,129.27 274.13,130.45 273.30,131.00 C272.47,131.55 269.05,131.83 267.00,131.80 C264.95,131.77 261.58,131.60 261.00,130.80Z"/><path d="M305.40,131.40 C304.65,130.48 307.23,127.73 308.50,126.50 C309.77,125.27 311.50,124.00 313.00,124.00 C314.50,124.00 316.28,125.30 317.50,126.50 C318.72,127.70 321.05,130.28 320.30,131.20 C319.55,132.12 315.48,131.97 313.00,132.00 C310.52,132.03 306.15,132.32 305.40,131.40Z"/><path d="M312.40,215.00 C311.90,214.00 314.07,210.78 315.00,209.50 C315.93,208.22 316.92,207.30 318.00,207.30 C319.08,207.30 320.53,208.28 321.50,209.50 C322.47,210.72 324.38,213.60 323.80,214.60 C323.22,215.60 319.90,215.43 318.00,215.50 C316.10,215.57 312.90,216.00 312.40,215.00Z"/><path d="M361.80,170.70 C360.28,170.88 355.07,171.15 352.70,171.80 C350.33,172.45 348.62,173.40 347.60,174.60 C346.58,175.80 346.32,177.88 346.60,179.00 C346.88,180.12 347.73,180.73 349.30,181.30 C350.87,181.87 353.92,182.28 356.00,182.40 C358.08,182.52 360.83,182.07 361.80,182.00"/><path d="M154.50,121.20 C155.33,120.65 157.73,118.92 159.50,117.90 C161.27,116.88 163.23,115.95 165.10,115.10 C166.97,114.25 169.05,113.62 170.70,112.80 C172.35,111.98 173.37,111.27 175.00,110.20 C176.63,109.13 177.83,107.30 180.50,106.40 C183.17,105.50 187.58,105.03 191.00,104.80 C194.42,104.57 198.08,104.70 201.00,105.00 C203.92,105.30 206.33,106.00 208.50,106.60 C210.67,107.20 212.43,108.07 214.00,108.60 C215.57,109.13 216.40,109.43 217.90,109.80 C219.40,110.17 221.08,110.43 223.00,110.80 C224.92,111.17 229.17,110.87 229.40,112.00 C229.63,113.13 225.63,115.77 224.40,117.60 C223.17,119.43 222.33,121.27 222.00,123.00 C221.67,124.73 222.20,125.92 222.40,128.00 C222.60,130.08 222.70,133.25 223.20,135.50 C223.70,137.75 224.55,139.92 225.40,141.50 C226.25,143.08 226.88,143.10 228.30,145.00 C229.72,146.90 231.47,150.83 233.90,152.90 C236.33,154.97 240.47,155.92 242.90,157.40 C245.33,158.88 246.63,159.93 248.50,161.80 C250.37,163.67 252.43,166.48 254.10,168.60 C255.77,170.72 257.22,172.60 258.50,174.50 C259.78,176.40 261.25,179.08 261.80,180.00"/><path d="M166.00,122.30 C166.83,121.83 169.50,120.38 171.00,119.50 C172.50,118.62 173.83,117.78 175.00,117.00 C176.17,116.22 177.00,115.57 178.00,114.80 C179.00,114.03 179.83,113.08 181.00,112.40 C182.17,111.72 183.25,111.18 185.00,110.70 C186.75,110.22 188.73,109.78 191.50,109.50 C194.27,109.22 199.02,109.02 201.60,109.00 C204.18,108.98 205.53,109.20 207.00,109.40 C208.47,109.60 209.37,109.82 210.40,110.20 C211.43,110.58 212.47,110.98 213.20,111.70 C213.93,112.42 214.50,113.53 214.80,114.50 C215.10,115.47 215.10,116.58 215.00,117.50 C214.90,118.42 214.55,119.33 214.20,120.00 C213.85,120.67 213.12,121.25 212.90,121.50"/><path d="M212.90,121.50 C212.25,122.13 211.15,124.38 209.00,125.30 C206.85,126.22 203.17,126.65 200.00,127.00 C196.83,127.35 193.33,127.47 190.00,127.40 C186.67,127.33 183.12,127.03 180.00,126.60 C176.88,126.17 174.30,125.50 171.30,124.80 C168.30,124.10 164.80,123.00 162.00,122.40 C159.20,121.80 155.75,121.40 154.50,121.20"/><path d="M154.50,121.20 C155.62,121.53 158.62,122.45 161.20,123.20 C163.78,123.95 166.97,124.85 170.00,125.70 C173.03,126.55 176.28,127.65 179.40,128.30 C182.52,128.95 186.22,129.13 188.70,129.60 C191.18,130.07 193.37,130.85 194.30,131.10"/><path d="M175.40,138.00 C176.00,137.58 177.40,136.28 179.00,135.50 C180.60,134.72 183.00,133.93 185.00,133.30 C187.00,132.67 188.50,132.22 191.00,131.70 C193.50,131.18 197.50,130.55 200.00,130.20 C202.50,129.85 204.45,129.42 206.00,129.60 C207.55,129.78 208.55,130.32 209.30,131.30 C210.05,132.28 209.88,134.05 210.50,135.50 C211.12,136.95 212.08,138.52 213.00,140.00 C213.92,141.48 215.08,143.13 216.00,144.40 C216.92,145.67 217.67,146.57 218.50,147.60 C219.33,148.63 220.35,149.43 221.00,150.60 C221.65,151.77 221.32,153.33 222.40,154.60 C223.48,155.87 225.40,157.43 227.50,158.20 C229.60,158.97 232.75,158.63 235.00,159.20 C237.25,159.77 239.63,160.47 241.00,161.60 C242.37,162.73 242.58,163.77 243.20,166.00 C243.82,168.23 244.35,172.40 244.70,175.00 C245.05,177.60 245.20,180.50 245.30,181.60"/><path d="M206.50,180.50 C208.08,180.75 212.08,181.68 216.00,182.00 C219.92,182.32 225.17,182.40 230.00,182.40 C234.83,182.40 239.70,182.32 245.00,182.00 C250.30,181.68 259.00,180.75 261.80,180.50"/><path d="M175.40,138.00 C176.00,138.27 177.40,139.12 179.00,139.60 C180.60,140.08 183.00,140.12 185.00,140.90 C187.00,141.68 189.47,142.98 191.00,144.30 C192.53,145.62 192.95,147.27 194.20,148.80 C195.45,150.33 197.03,151.97 198.50,153.50 C199.97,155.03 201.53,156.38 203.00,158.00 C204.47,159.62 206.25,161.57 207.30,163.20 C208.35,164.83 209.38,165.67 209.30,167.80 C209.22,169.93 207.58,174.00 206.80,176.00 C206.02,178.00 204.50,178.35 204.60,179.80 C204.70,181.25 205.25,183.33 207.40,184.70 C209.55,186.07 213.95,187.35 217.50,188.00 C221.05,188.65 224.97,188.60 228.70,188.60 C232.43,188.60 236.53,188.57 239.90,188.00 C243.27,187.43 245.90,186.22 248.90,185.20 C251.90,184.18 255.75,182.68 257.90,181.90 C260.05,181.12 261.15,180.73 261.80,180.50"/><path d="M238.40,129.80 C238.48,129.23 239.90,127.88 241.00,127.40 C242.10,126.92 243.75,126.90 245.00,126.90 C246.25,126.90 247.57,126.95 248.50,127.40 C249.43,127.85 250.68,129.02 250.60,129.60 C250.52,130.18 249.10,130.63 248.00,130.90 C246.90,131.17 245.25,131.22 244.00,131.20 C242.75,131.18 241.43,131.03 240.50,130.80 C239.57,130.57 238.32,130.37 238.40,129.80Z"/><ellipse cx="133" cy="105.3" rx="6.6" ry="1.6"/><path d="M340.2,129.8 Q345.5,125.6 350.9,129.8 Q345.5,133.6 340.2,129.8Z"/><ellipse cx="187.7" cy="79.9" rx="2.0" ry="0.9" fill="#2350e8"/><ellipse cx="196.5" cy="79.9" rx="2.7" ry="0.9" fill="#2350e8"/><ellipse cx="324.9" cy="171.4" rx="3.3" ry="0.9" fill="#2350e8"/><ellipse cx="298.9" cy="188.6" rx="1.9" ry="0.6" fill="#2350e8"/><ellipse cx="263.4" cy="205.1" rx="3.0" ry="0.5" fill="#2350e8"/><ellipse cx="108.7" cy="163.2" rx="0.5" ry="0.5" fill="#2350e8"/><ellipse cx="108.9" cy="238.3" rx="1.2" ry="0.8" fill="#2350e8"/></g><g fill="none" stroke="#d3181e" stroke-width="1.8" stroke-linejoin="round"><path d="M165.90,126.00 C165.65,124.62 165.75,119.13 166.50,116.20 C167.25,113.27 168.25,110.55 170.40,108.40 C172.55,106.25 176.03,104.52 179.40,103.30 C182.77,102.08 186.87,101.47 190.60,101.10 C194.33,100.73 198.43,100.83 201.80,101.10 C205.17,101.37 208.17,101.68 210.80,102.70 C213.43,103.72 215.72,105.32 217.60,107.20 C219.48,109.08 221.08,111.53 222.10,114.00 C223.12,116.47 223.27,119.13 223.70,122.00 C224.13,124.87 224.25,127.78 224.70,131.20 C225.15,134.62 225.43,139.45 226.40,142.50 C227.37,145.55 228.88,147.58 230.50,149.50 C232.12,151.42 233.85,152.88 236.10,154.00 C238.35,155.12 241.37,155.27 244.00,156.20 C246.63,157.13 249.47,158.28 251.90,159.60 C254.33,160.92 256.65,162.82 258.60,164.10 C260.55,165.38 262.22,166.30 263.60,167.30 C264.98,168.30 266.22,168.80 266.90,170.10 C267.58,171.40 267.85,173.15 267.70,175.10 C267.55,177.05 267.50,179.73 266.00,181.80 C264.50,183.87 261.60,186.08 258.70,187.50 C255.80,188.92 252.35,189.75 248.60,190.30 C244.85,190.85 240.50,191.08 236.20,190.80 C231.90,190.52 226.72,189.72 222.80,188.60 C218.88,187.48 215.05,186.53 212.70,184.10 C210.35,181.67 209.27,177.18 208.70,174.00 C208.13,170.82 209.25,167.58 209.30,165.00 C209.35,162.42 209.30,160.90 209.00,158.50 C208.70,156.10 208.40,152.85 207.50,150.60 C206.60,148.35 205.02,146.52 203.60,145.00 C202.18,143.48 200.93,142.70 199.00,141.50 C197.07,140.30 194.33,138.92 192.00,137.80 C189.67,136.68 187.13,135.70 185.00,134.80 C182.87,133.90 181.28,133.37 179.20,132.40 C177.12,131.43 174.37,130.32 172.50,129.00 C170.63,127.68 169.10,125.00 168.00,124.50 C166.90,124.00 166.15,127.38 165.90,126.00Z"/><path d="M174.30,126.00 C173.02,123.68 174.23,117.85 174.90,115.10 C175.57,112.35 176.43,110.90 178.30,109.50 C180.17,108.10 183.12,107.37 186.10,106.70 C189.08,106.03 192.83,105.50 196.20,105.50 C199.57,105.50 203.67,106.03 206.30,106.70 C208.93,107.37 210.68,107.92 212.00,109.50 C213.32,111.08 213.67,114.12 214.20,116.20 C214.73,118.28 214.67,120.43 215.20,122.00 C215.73,123.57 217.22,124.07 217.40,125.60 C217.58,127.13 217.05,129.52 216.30,131.20 C215.55,132.88 214.22,134.77 212.90,135.70 C211.58,136.63 210.47,136.88 208.40,136.80 C206.33,136.72 203.12,135.93 200.50,135.20 C197.88,134.47 195.68,133.43 192.70,132.40 C189.72,131.37 185.67,130.07 182.60,129.00 C179.53,127.93 175.58,128.32 174.30,126.00Z"/><path d="M217.50,157.40 C218.52,156.27 219.33,156.33 221.50,156.20 C223.67,156.07 227.12,156.25 230.50,156.60 C233.88,156.95 238.98,157.62 241.80,158.30 C244.62,158.98 245.47,159.58 247.40,160.70 C249.33,161.82 251.52,163.35 253.40,165.00 C255.28,166.65 257.72,168.73 258.70,170.60 C259.68,172.47 259.77,174.52 259.30,176.20 C258.83,177.88 257.87,179.48 255.90,180.70 C253.93,181.92 251.03,182.78 247.50,183.50 C243.97,184.22 238.82,185.08 234.70,185.00 C230.58,184.92 225.72,183.90 222.80,183.00 C219.88,182.10 218.47,181.48 217.20,179.60 C215.93,177.72 215.50,174.47 215.20,171.70 C214.90,168.93 215.02,165.38 215.40,163.00 C215.78,160.62 216.48,158.53 217.50,157.40Z"/><path d="M187.80,120.10 C188.37,119.17 191.30,117.03 192.90,116.20 C194.50,115.37 195.72,115.00 197.40,115.10 C199.08,115.20 201.42,115.87 203.00,116.80 C204.58,117.73 206.90,119.67 206.90,120.70 C206.90,121.73 204.97,122.53 203.00,123.00 C201.03,123.47 197.35,123.70 195.10,123.50 C192.85,123.30 190.72,122.37 189.50,121.80 C188.28,121.23 187.23,121.03 187.80,120.10Z"/><path d="M226.10,170.60 C226.28,169.38 229.08,168.35 230.60,167.80 C232.12,167.25 233.70,167.30 235.20,167.30 C236.70,167.30 238.12,167.25 239.60,167.80 C241.08,168.35 243.72,169.00 244.10,170.60 C244.48,172.20 243.22,176.00 241.90,177.40 C240.58,178.80 238.27,179.38 236.20,179.00 C234.13,178.62 231.18,176.50 229.50,175.10 C227.82,173.70 225.92,171.82 226.10,170.60Z"/></g></g>
<g fill="#ffa405"><circle cx="169.3" cy="113.7" r="2.4"/><circle cx="182.8" cy="115.3" r="2.4"/><circle cx="196.2" cy="117.9" r="2.4"/><circle cx="209.7" cy="110.6" r="2.4"/><circle cx="223.3" cy="182.4" r="2.4"/><circle cx="236.49999999999994" cy="175.3" r="2.4"/><circle cx="249.90000000000003" cy="177.9" r="2.4"/><circle cx="263.40000000000003" cy="179" r="2.4"/></g>
<rect x="88.3" y="50.5" width="274.2" height="192.0" fill="none" stroke="#666" stroke-width="1.25"/>
<line x1="107.70" y1="242.5" x2="107.70" y2="238.5" stroke="#555" stroke-width="1"/>
<line x1="162.05" y1="242.5" x2="162.05" y2="238.5" stroke="#555" stroke-width="1"/>
<line x1="216.40" y1="242.5" x2="216.40" y2="238.5" stroke="#555" stroke-width="1"/>
<line x1="270.75" y1="242.5" x2="270.75" y2="238.5" stroke="#555" stroke-width="1"/>
<line x1="325.10" y1="242.5" x2="325.10" y2="238.5" stroke="#555" stroke-width="1"/>
<line x1="88.3" y1="76.80" x2="92.8" y2="76.80" stroke="#555" stroke-width="1"/>
<line x1="362.5" y1="74.50" x2="358.0" y2="74.50" stroke="#555" stroke-width="1"/>
<line x1="88.3" y1="111.80" x2="92.8" y2="111.80" stroke="#555" stroke-width="1"/>
<line x1="362.5" y1="109.30" x2="358.0" y2="109.30" stroke="#555" stroke-width="1"/>
<line x1="88.3" y1="146.80" x2="92.8" y2="146.80" stroke="#555" stroke-width="1"/>
<line x1="362.5" y1="144.10" x2="358.0" y2="144.10" stroke="#555" stroke-width="1"/>
<line x1="88.3" y1="181.80" x2="92.8" y2="181.80" stroke="#555" stroke-width="1"/>
<line x1="362.5" y1="178.90" x2="358.0" y2="178.90" stroke="#555" stroke-width="1"/>
<line x1="88.3" y1="216.80" x2="92.8" y2="216.80" stroke="#555" stroke-width="1"/>
<line x1="362.5" y1="213.70" x2="358.0" y2="213.70" stroke="#555" stroke-width="1"/>
<text x="107.70" y="251.8" text-anchor="middle" class="tk">−2</text>
<text x="162.05" y="251.8" text-anchor="middle" class="tk">−1</text>
<text x="216.40" y="251.8" text-anchor="middle" class="tk">0</text>
<text x="270.75" y="251.8" text-anchor="middle" class="tk">1</text>
<text x="325.10" y="251.8" text-anchor="middle" class="tk">2</text>
<text x="85.8" y="80.70" text-anchor="end" class="tk">400</text>
<text x="364.6" y="77.70" class="tk">400</text>
<text x="85.8" y="115.70" text-anchor="end" class="tk">200</text>
<text x="364.6" y="112.50" class="tk">200</text>
<text x="85.8" y="150.70" text-anchor="end" class="tk">0</text>
<text x="364.6" y="147.30" class="tk">0</text>
<text x="85.8" y="185.70" text-anchor="end" class="tk">−200</text>
<text x="364.6" y="182.10" class="tk">−200</text>
<text x="85.8" y="220.70" text-anchor="end" class="tk">−400</text>
<text x="364.6" y="216.90" class="tk">−400</text>
<text x="225.1" y="263.5" text-anchor="middle" class="al">Offset (arcsec)</text>
<text transform="translate(55.8,147.1) rotate(-90)" text-anchor="middle" class="yl"><tspan class="ser">ΔV<tspan font-size="7.2" dy="2.2">LOS</tspan></tspan><tspan dy="-2.2"> (km/s)</tspan></text>
</g>
<text x="224.35" y="14.6" text-anchor="middle" class="ttl">Fit to approaching side</text>
<text x="580.15" y="14.6" text-anchor="middle" class="ttl">Fit to receding side</text>
<text x="97.1" y="34.1" class="obj">J0225-371</text>
<text x="437.6" y="34.1" class="obj">J0225-371</text>
<text y="46.5" class="phi"><tspan x="310.5">ϕ</tspan><tspan x="320.1">=</tspan><tspan x="332.0">101</tspan><tspan x="355.7" font-size="9.5" dy="-4.3" style="stroke:none">∘</tspan></text>
<text y="46.5" class="phi"><tspan x="657.5">ϕ</tspan><tspan x="667.1">=</tspan><tspan x="679.0">101</tspan><tspan x="702.7" font-size="9.5" dy="-4.3" style="stroke:none">∘</tspan></text>
<text x="293.8" y="64" class="lg" fill="#ee1410">Model fit</text>
<text x="306.6" y="86" class="lg" fill="#0e6cc6">Data</text>
<text x="641.9" y="62.9" class="lg" fill="#ee1410">Model fit</text>
<text x="654.7" y="86" class="lg" fill="#0e6cc6">Data</text>
<text transform="translate(16.1,142) rotate(-90)" text-anchor="middle" class="side">Major axis</text>
<text transform="translate(746.6,146.3) rotate(-90)" text-anchor="middle" class="yl"><tspan class="ser">V<tspan font-size="7.2" dy="2.2">LOS</tspan></tspan><tspan dy="-2.2"> (km/s)</tspan></text>
<text transform="translate(35.6,142) rotate(-90)" text-anchor="middle" class="side">PVD</text>
</svg></body></html>
